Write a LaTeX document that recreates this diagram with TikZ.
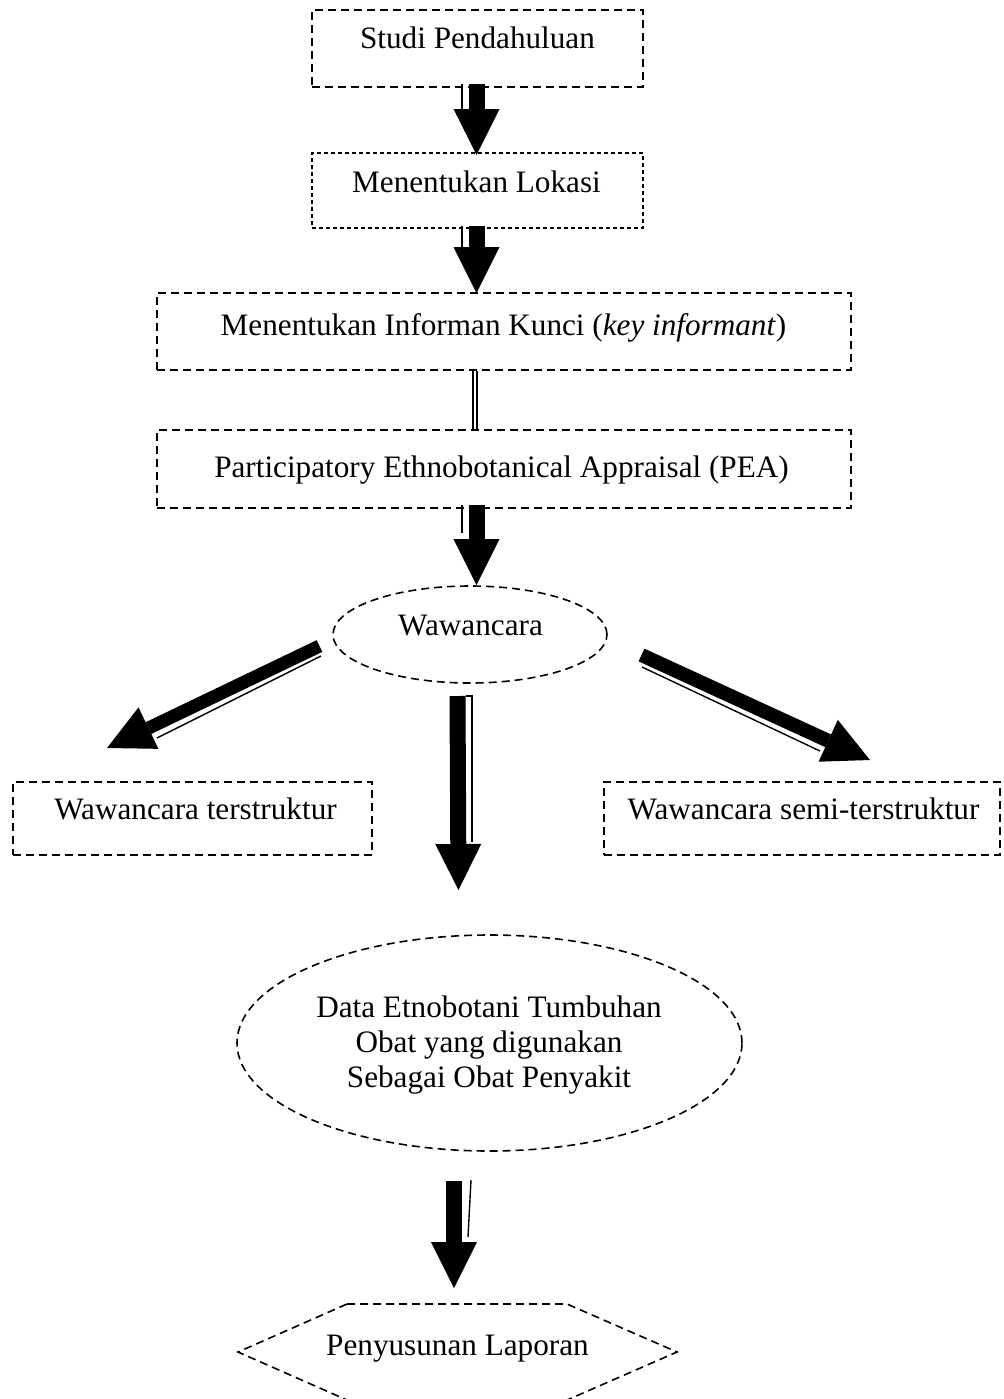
\documentclass[tikz,border=0pt]{standalone}
\usepackage{fontspec}
\setmainfont{Liberation Serif}
\usetikzlibrary{arrows.meta,shapes.geometric,calc}
\begin{document}
\begin{tikzpicture}[x=0.5pt,y=-0.5pt,
  box/.style={draw, line width=0.8pt, dash pattern=on 4pt off 2.5pt, inner sep=0pt},
  finebox/.style={draw, line width=0.55pt, dash pattern=on 2pt off 1.5pt, inner sep=0pt},
  oval/.style={draw, ellipse, line width=0.8pt, dash pattern=on 4pt off 2.5pt, inner sep=0pt},
  txt/.style={anchor=base, inner sep=0pt, font=\fontsize{15.6pt}{18pt}\selectfont},
  blk/.style={line width=8pt, -{Triangle[length=23pt,width=23pt,line width=0pt]}},
  thin/.style={line width=0.7pt},
]
\useasboundingbox (0,0) rectangle (1003,1399);

% boxes
\node[box, minimum width=165.5pt, minimum height=38.5pt] (b1) at (477.5,48.5) {};
\node[finebox, minimum width=165.5pt, minimum height=37.5pt] (b2) at (477.5,190.5) {};
\node[box, minimum width=347pt, minimum height=38.5pt] (b3) at (504,331.5) {};
\node[box, minimum width=347pt, minimum height=39pt] (b4) at (504,469) {};
\node[oval, minimum width=137pt, minimum height=48.5pt] (e1) at (470,634.5) {};
\node[box, minimum width=179.5pt, minimum height=36.5pt] (bl) at (192.5,818.5) {};
\node[box, minimum width=198pt, minimum height=36.5pt] (br) at (802,818.5) {};
\node[oval, minimum width=252.5pt, minimum height=108pt] (e2) at (489.5,1043) {};
\draw[box] (347,1304) coordinate (hx) -- (567,1304) -- (677,1352) -- (567,1400) -- (347,1400) -- (238,1352) -- cycle;

% texts
\node[txt] (t1) at (477.5,48) {Studi Pendahuluan};
\node[txt] (t2) at (476.5,192) {Menentukan Lokasi};
\node[txt] (t3) at (503.5,335) {Menentukan Informan Kunci (\textit{key informant})};
\node[txt] (t4) at (501.5,477) {Participatory Ethnobotanical Appraisal (PEA)};
\node[txt] (t5) at (470.5,635) {Wawancara};
\node[txt] (t6) at (195.5,819) {Wawancara terstruktur};
\node[txt] (t7) at (803.5,819) {Wawancara semi-terstruktur};
\node[txt] (t8a) at (489,1017) {Data Etnobotani Tumbuhan};
\node[txt] (t8b) at (489,1052) {Obat yang digunakan};
\node[txt] (t8c) at (489,1087) {Sebagai Obat Penyakit};
\node[txt] (t9) at (457.5,1355) {Penyusunan Laporan};

% arrow coordinates
\coordinate (a1s) at (476.5,84);  \coordinate (a1t) at (476.5,155);
\coordinate (a2s) at (476.5,226); \coordinate (a2t) at (476.5,293);
\coordinate (a4s) at (476.5,505); \coordinate (a4t) at (476.5,585);
\coordinate (a5s) at (319.5,646); \coordinate (a5t) at (107,748);
\coordinate (a6s) at (641.5,655); \coordinate (a6t) at (870,760);
\coordinate (a7s) at (457.5,696); \coordinate (a7t) at (458.5,890);
\coordinate (a8s) at (454,1181);  \coordinate (a8t) at (454,1288);

% block arrows
\draw[blk] (a1s) -- (a1t);
\draw[blk] (a2s) -- (a2t);
\draw[blk] (a4s) -- (a4t);
\draw[blk, line width=6.5pt] (a5s) -- (a5t);
\draw[blk, line width=7pt] (a6s) -- (a6t);
\draw[blk] (a7s) -- (a7t);
\draw[blk] (a8s) -- (a8t);

% thin companion lines
\draw[thin] (462,84) -- (462,112);
\draw[thin] (462,226) -- (462,254);
\draw[thin] (462,505) -- (462,533);
\draw[thin] (321,656) -- (157,738);
\draw[thin] (642,667) -- (820,751);
\draw[thin] (465.5,696) -- (472,696) -- (472,842);
\draw[thin] (471,1180) -- (468,1237);

% double connector
\draw[double, double distance=1.2pt, line width=0.8pt] (b3.south -| 475,0) -- (b4.north -| 475,0);
\end{tikzpicture}
\end{document}
